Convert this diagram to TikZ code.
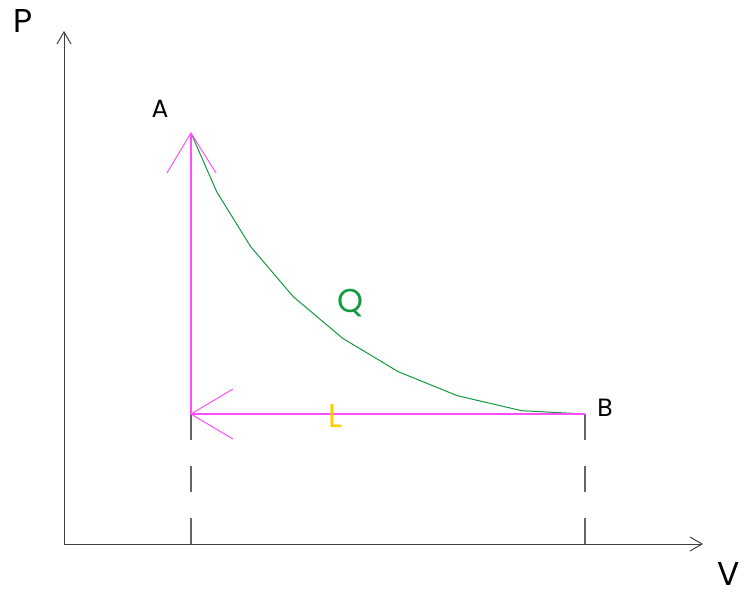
\documentclass[tikz,border=0pt]{standalone}
\usepackage{fontspec}
\setmainfont{Poppins}
\begin{document}
\begin{tikzpicture}[x=1pt,y=-1pt,
  axisline/.style={draw=black!75,line width=1pt},
  cycleline/.style={draw=magentaC,line width=1.4pt},
  wing/.style={draw=magentaC,line width=1pt},
  dashline/.style={draw=black!60,line width=1.2pt,dash pattern=on 26pt off 26pt},
  curveline/.style={draw=greenC,line width=1pt},
  biglabel/.style={inner sep=0pt,font=\fontsize{33}{33}\selectfont},
  smalllabel/.style={inner sep=0pt,font=\fontsize{25}{25}\selectfont}]
\definecolor{magentaC}{HTML}{FF4DFF}
\definecolor{greenC}{HTML}{119A3C}
\definecolor{goldC}{HTML}{FFCC00}
\useasboundingbox (0,0) rectangle (746,595);
% coordinates
\coordinate (O) at (64,544);
\coordinate (Ytip) at (64,32);
\coordinate (Yw1) at (57,44);
\coordinate (Yw2) at (71,44);
\coordinate (Xtip) at (702,544);
\coordinate (Xw1) at (690,537);
\coordinate (Xw2) at (690,551);
\coordinate (A) at (191,133);
\coordinate (C) at (191,414);
\coordinate (B) at (585,414);
\coordinate (Cb) at (191,544);
\coordinate (Bb) at (585,544);
\coordinate (Aw1) at (167,173);
\coordinate (Aw2) at (216,173);
\coordinate (Cw1) at (233,389);
\coordinate (Cw2) at (233,439);
% axes
\draw[axisline] (O) -- (Ytip);
\draw[axisline] (Yw1) -- (Ytip) -- (Yw2);
\draw[axisline] (O) -- (Xtip);
\draw[axisline] (Xw1) -- (Xtip) -- (Xw2);
% dashed projections
\draw[dashline] (C) -- (Cb);
\draw[dashline] (B) -- (Bb);
% curve
\draw[curveline] (A) -- (216.7,191.7) -- (250.7,246.7) -- (293.3,296.7) -- (342.7,338.3)
  -- (398.3,371.7) -- (457.3,395.7) -- (521.7,410.7) -- (B);
% cycle lines
\draw[cycleline] (C) -- (A);
\draw[wing] (Aw1) -- (A) -- (Aw2);
\draw[cycleline] (B) -- (C);
\draw[wing] (Cw1) -- (C) -- (Cw2);
% labels
\node[biglabel] (lP) at (23,21) {P};
\node[biglabel] (lV) at (729,574) {V};
\node[smalllabel] (lA) at (160,109) {A};
\node[smalllabel] (lB) at (605,408) {B};
\node[biglabel,text=greenC] (lQ) at (350,303) {Q};
\node[biglabel,text=goldC] (lL) at (336,415.5) {L};
\end{tikzpicture}
\end{document}
